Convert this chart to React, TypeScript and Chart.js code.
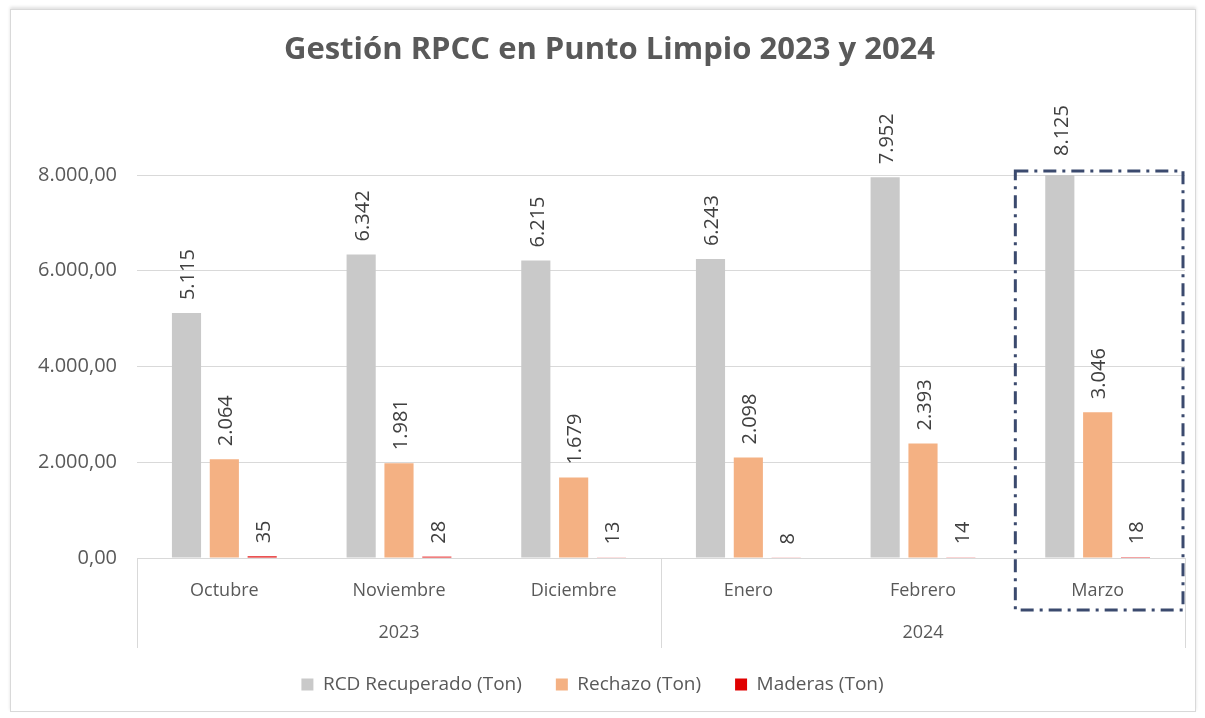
import React, { useEffect, useRef } from "react";
import { Chart, registerables } from "chart.js";

Chart.register(...registerables);

const titleText = "Gestión RPCC en Punto Limpio 2023 y 2024";
const months = ["Octubre", "Noviembre", "Diciembre", "Enero", "Febrero", "Marzo"];
const yearLabels = ["2023", "2024"];
const yearOfMonth = [0, 0, 0, 1, 1, 1];
const rcdRecuperado = [5115, 6342, 6215, 6243, 7952, 8125];
const rechazo = [2064, 1981, 1679, 2098, 2393, 3046];
const maderas = [35, 28, 13, 8, 14, 18];
const yTicks = [0, 2000, 4000, 6000, 8000];
const highlightIndex = 5;

const FONT = "'Open Sans', 'DejaVu Sans', sans-serif";
const TEXT = "#595959";

const fmtInt = (n: number) => String(Math.round(n)).replace(/\B(?=(\d{3})+(?!\d))/g, ".");
const fmtTick = (n: number) => fmtInt(Math.trunc(n)) + ",00";

const decorPlugin = {
  id: "decor",
  beforeDraw(chart: any) {
    const ctx = chart.ctx;
    ctx.save();
    ctx.fillStyle = TEXT;
    ctx.font = `bold 31px ${FONT}`;
    ctx.textAlign = "center";
    ctx.textBaseline = "middle";
    ctx.fillText(titleText, chart.width / 2 + 7, 50);
    ctx.restore();
  },
  afterDatasetsDraw(chart: any) {
    const ctx = chart.ctx;
    ctx.save();
    ctx.fillStyle = "#404040";
    ctx.font = `20px ${FONT}`;
    ctx.textAlign = "left";
    ctx.textBaseline = "middle";
    chart.data.datasets.forEach((ds: any, di: number) => {
      const meta = chart.getDatasetMeta(di);
      meta.data.forEach((el: any, i: number) => {
        ctx.save();
        ctx.translate(el.x + 2, el.y - 13);
        ctx.rotate(-Math.PI / 2);
        ctx.fillText(fmtInt(ds.data[i]), 0, 0);
        ctx.restore();
      });
    });
    ctx.restore();
  },
  afterDraw(chart: any) {
    const ctx = chart.ctx;
    const x = chart.scales.x;
    const y = chart.scales.y;
    const area = chart.chartArea;
    const n = months.length;
    const catW = (x.right - x.left) / n;
    ctx.save();
    const bounds: number[] = [x.left];
    for (let i = 1; i < n; i++) {
      if (yearOfMonth[i] !== yearOfMonth[i - 1]) bounds.push(x.getPixelForValue(i) - catW / 2);
    }
    bounds.push(x.right);
    ctx.strokeStyle = "#d9d9d9";
    ctx.lineWidth = 1;
    bounds.forEach((bx) => {
      ctx.beginPath();
      ctx.moveTo(Math.round(bx) + 0.5, area.bottom);
      ctx.lineTo(Math.round(bx) + 0.5, area.bottom + 90);
      ctx.stroke();
    });
    ctx.fillStyle = TEXT;
    ctx.font = `18px ${FONT}`;
    ctx.textAlign = "center";
    ctx.textBaseline = "middle";
    yearLabels.forEach((lab, yi) => {
      const idx = yearOfMonth.map((v, i) => (v === yi ? i : -1)).filter((v) => v >= 0);
      const l = x.getPixelForValue(idx[0]) - catW / 2;
      const r = x.getPixelForValue(idx[idx.length - 1]) + catW / 2;
      ctx.fillText(lab, (l + r) / 2, area.bottom + 75);
    });
    const bl = x.getPixelForValue(highlightIndex) - catW / 2 + 5;
    const br = x.right - 2;
    const bt = y.getPixelForValue(yTicks[yTicks.length - 1]) - 4;
    const bb = area.bottom + 52;
    ctx.strokeStyle = "#3b4a6e";
    ctx.lineWidth = 3;
    ctx.setLineDash([13, 6, 3, 6]);
    ctx.strokeRect(bl, bt, br - bl, bb - bt);
    ctx.restore();
  },
};

export default function App() {
  const ref = useRef<HTMLCanvasElement | null>(null);
  useEffect(() => {
    document.body.style.margin = "0";
    const canvas = ref.current;
    if (!canvas) return;
    const chart = new Chart(canvas, {
      type: "bar",
      data: {
        labels: months,
        datasets: [
          { label: "RCD Recuperado (Ton)", data: rcdRecuperado, backgroundColor: "#c9c9c9" },
          { label: "Rechazo (Ton)", data: rechazo, backgroundColor: "#f4b183" },
          { label: "Maderas (Ton)", data: maderas, backgroundColor: "#e00000" },
        ],
      },
      options: {
        animation: false,
        responsive: false,
        maintainAspectRatio: false,
        datasets: { bar: { barPercentage: 0.77, categoryPercentage: 0.65 } } as any,
        layout: { padding: { left: 0, right: 20, top: 175, bottom: 14 } },
        plugins: {
          title: { display: false },
          legend: {
            position: "bottom",
            labels: {
              color: TEXT,
              font: { family: FONT, size: 19 },
              boxWidth: 12,
              boxHeight: 12,
              padding: 34,
            },
          },
          tooltip: { enabled: false },
        },
        scales: {
          x: {
            grid: { display: false, drawTicks: false },
            border: { display: false },
            ticks: { color: TEXT, font: { family: FONT, size: 18 }, padding: 22, maxRotation: 0 },
            afterFit: (s: any) => {
              s.height = 83;
            },
          },
          y: {
            min: 0,
            max: 8000,
            afterBuildTicks: (s: any) => {
              s.ticks = yTicks.map((v) => ({ value: v }));
            },
            grid: { color: "#d9d9d9", drawTicks: false },
            border: { display: false },
            ticks: {
              color: TEXT,
              font: { family: FONT, size: 20 },
              padding: 20,
              callback: (v: any) => fmtTick(Number(v)),
            },
            afterFit: (s: any) => {
              s.width = 137;
            },
          },
        },
      },
      plugins: [decorPlugin],
    });
    return () => chart.destroy();
  }, []);
  return (
    <div style={{ position: "relative", width: 1205, height: 718, background: "#fff" }}>
      <div
        style={{
          position: "absolute",
          left: 10,
          top: 9,
          width: 1184,
          height: 701,
          border: "1px solid #d9d9d9",
          boxShadow: "0 -2px 3px rgba(0,0,0,0.12)",
        }}
      />
      <canvas ref={ref} width={1205} height={718} style={{ position: "absolute", left: 0, top: 0 }} />
    </div>
  );
}
